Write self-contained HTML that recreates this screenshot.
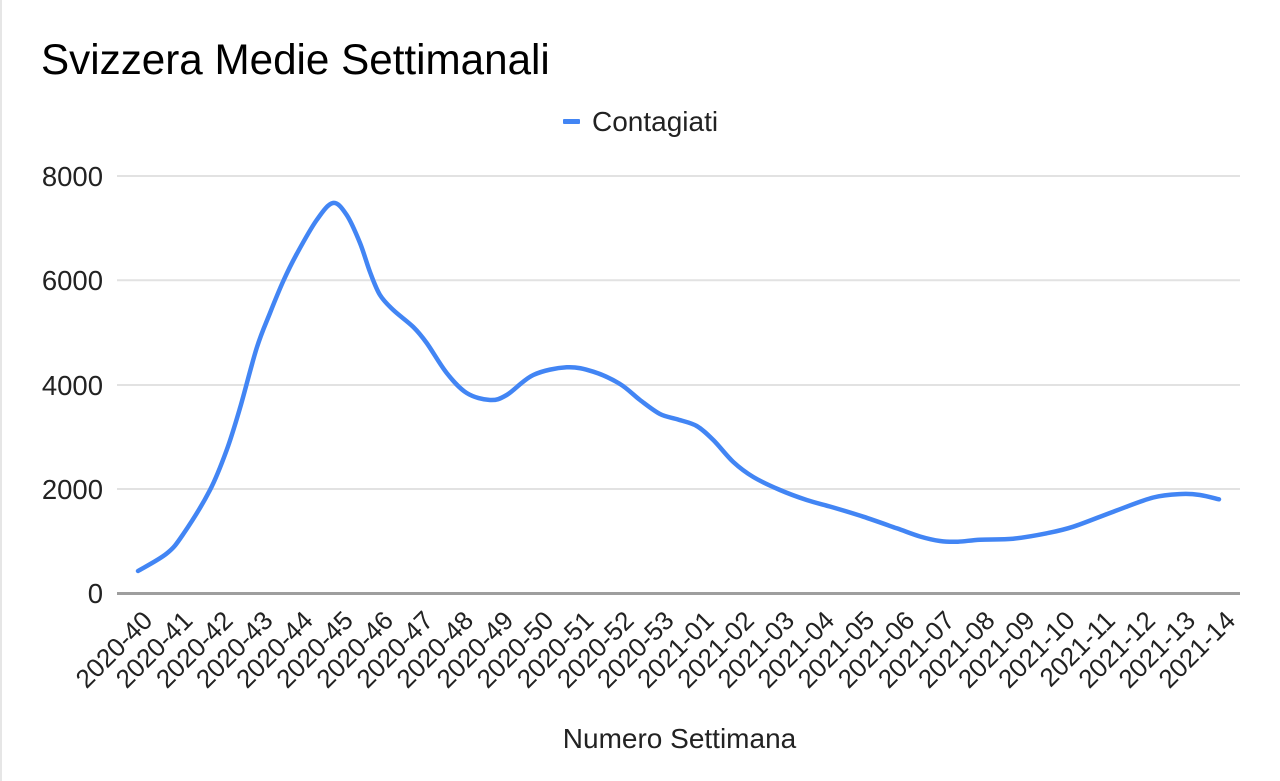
<!DOCTYPE html>
<html>
<head>
<meta charset="utf-8">
<style>
  html, body { margin:0; padding:0; background:#ffffff; }
  body { width:1280px; height:781px; overflow:hidden; position:relative; }
  svg { position:absolute; left:0; top:0; }
  text { font-family: "Liberation Sans", Arial, sans-serif; fill:#222222; }
</style>
</head>
<body>
<svg width="1280" height="781" viewBox="0 0 1280 781" xmlns="http://www.w3.org/2000/svg">
  <rect x="0" y="0" width="1280" height="781" fill="#ffffff"/>
  <rect x="0" y="0" width="2" height="781" fill="#e6e6e6"/>

  <!-- Title -->
  <text x="41" y="74" font-size="42.2" style="fill:#000">Svizzera Medie Settimanali</text>

  <!-- Legend -->
  <rect x="563" y="119" width="17" height="5" rx="1" fill="#4285f4"/>
  <text x="592" y="131" font-size="28">Contagiati</text>

  <!-- Gridlines -->
  <g stroke="#e2e2e2" stroke-width="2">
    <line x1="117" y1="176" x2="1240" y2="176"/>
    <line x1="117" y1="280.3" x2="1240" y2="280.3"/>
    <line x1="117" y1="385" x2="1240" y2="385"/>
    <line x1="117" y1="489" x2="1240" y2="489"/>
  </g>

  <!-- Y labels -->
  <g font-size="27.5" text-anchor="end">
    <text x="103" y="186">8000</text>
    <text x="103" y="290">6000</text>
    <text x="103" y="395">4000</text>
    <text x="103" y="499">2000</text>
    <text x="103" y="603">0</text>
  </g>

  <!-- Series -->
  <path id="series" d="" fill="none" stroke="#4285f4" stroke-width="4.5" stroke-linecap="round" stroke-linejoin="round"/>

  <!-- Baseline -->
  <line x1="117" y1="593.5" x2="1240" y2="593.5" stroke="#9e9e9e" stroke-width="3"/>

  <!-- X labels -->
  <g font-size="26" text-anchor="end">
    <text transform="translate(154.0,622) rotate(-45)">2020-40</text>
    <text transform="translate(194.1,622) rotate(-45)">2020-41</text>
    <text transform="translate(234.3,622) rotate(-45)">2020-42</text>
    <text transform="translate(274.4,622) rotate(-45)">2020-43</text>
    <text transform="translate(314.5,622) rotate(-45)">2020-44</text>
    <text transform="translate(354.6,622) rotate(-45)">2020-45</text>
    <text transform="translate(394.7,622) rotate(-45)">2020-46</text>
    <text transform="translate(434.8,622) rotate(-45)">2020-47</text>
    <text transform="translate(474.9,622) rotate(-45)">2020-48</text>
    <text transform="translate(515.0,622) rotate(-45)">2020-49</text>
    <text transform="translate(555.1,622) rotate(-45)">2020-50</text>
    <text transform="translate(595.2,622) rotate(-45)">2020-51</text>
    <text transform="translate(635.3,622) rotate(-45)">2020-52</text>
    <text transform="translate(675.4,622) rotate(-45)">2020-53</text>
    <text transform="translate(715.5,622) rotate(-45)">2021-01</text>
    <text transform="translate(755.6,622) rotate(-45)">2021-02</text>
    <text transform="translate(795.8,622) rotate(-45)">2021-03</text>
    <text transform="translate(835.9,622) rotate(-45)">2021-04</text>
    <text transform="translate(876.0,622) rotate(-45)">2021-05</text>
    <text transform="translate(916.1,622) rotate(-45)">2021-06</text>
    <text transform="translate(956.2,622) rotate(-45)">2021-07</text>
    <text transform="translate(996.3,622) rotate(-45)">2021-08</text>
    <text transform="translate(1036.4,622) rotate(-45)">2021-09</text>
    <text transform="translate(1076.5,622) rotate(-45)">2021-10</text>
    <text transform="translate(1116.6,622) rotate(-45)">2021-11</text>
    <text transform="translate(1156.7,622) rotate(-45)">2021-12</text>
    <text transform="translate(1196.8,622) rotate(-45)">2021-13</text>
    <text transform="translate(1236.9,622) rotate(-45)">2021-14</text>
  </g>

  <!-- X axis title -->
  <text x="679.5" y="748" font-size="28" text-anchor="middle">Numero Settimana</text>
</svg>
<script>
(function(){
  var p = [
    [138,571],[166.7,553.5],[183.3,534],[210,490],[226.7,450],[240,408],
    [256.7,348],[270,313],[283.3,281],[296.7,254],[316.7,220],[333,203],[346.7,215],
    [360,243],[370,272],[380,295],[393.3,310],[413.3,327],[426.7,343],[446.7,373],[466.7,393],
    [490,400],[506.7,395],[533.3,375],[566.7,367.3],[593.3,371.7],[620,384],[640,400],[660,414],
    [678,419.5],[696.7,426],[713.3,440],[733.3,462],[753.3,477],[780,490],[806.7,500],[833.3,507.5],
    [863.3,516.7],[896.7,528.3],[920,536.5],[940,541],[958,541.7],[980,539.7],[1013,538.7],
    [1046.7,533.3],[1073.3,526.7],[1113.3,511.7],[1153.3,497.5],[1182,494],[1200,495],[1219,499.3]
  ];
  var d = "M" + p[0][0] + "," + p[0][1];
  for (var i = 0; i < p.length - 1; i++) {
    var p0 = p[i > 0 ? i - 1 : i], p1 = p[i], p2 = p[i + 1], p3 = p[i + 2 < p.length ? i + 2 : i + 1];
    var c1x = p1[0] + (p2[0] - p0[0]) / 6, c1y = p1[1] + (p2[1] - p0[1]) / 6;
    var c2x = p2[0] - (p3[0] - p1[0]) / 6, c2y = p2[1] - (p3[1] - p1[1]) / 6;
    d += " C" + c1x.toFixed(2) + "," + c1y.toFixed(2) + " " + c2x.toFixed(2) + "," + c2y.toFixed(2) + " " + p2[0] + "," + p2[1];
  }
  document.getElementById("series").setAttribute("d", d);
})();
</script>
</body>
</html>
